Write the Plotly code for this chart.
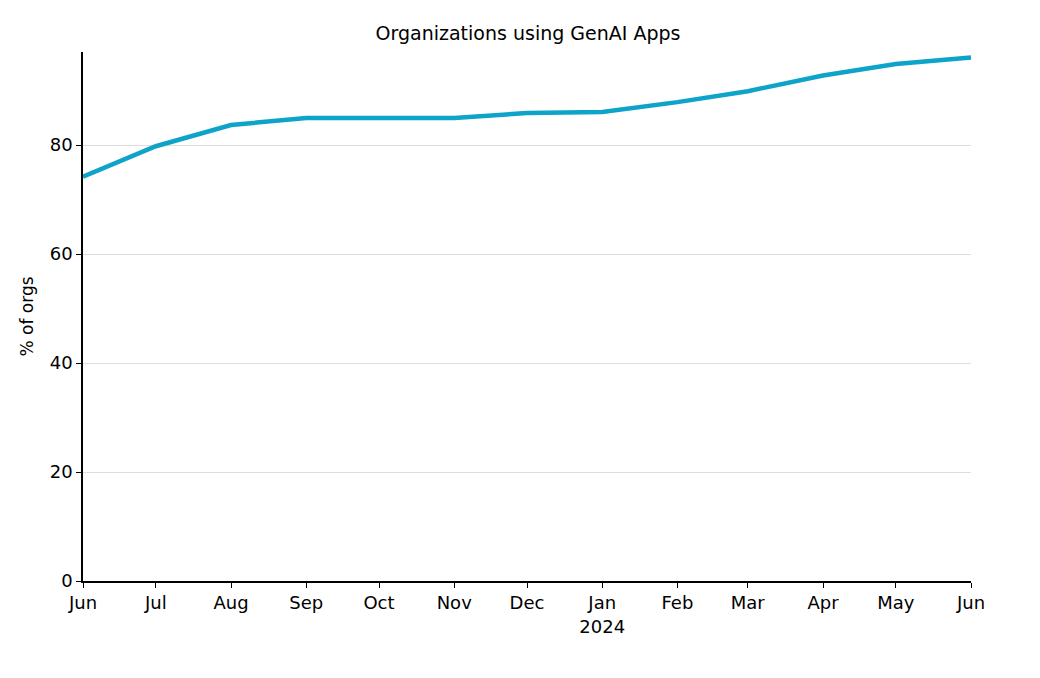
import plotly.graph_objects as go

months = ["2023-06-01", "2023-07-01", "2023-08-01", "2023-09-01", "2023-10-01",
          "2023-11-01", "2023-12-01", "2024-01-01", "2024-02-01", "2024-03-01",
          "2024-04-01", "2024-05-01", "2024-06-01"]
pct_orgs = [74.2, 79.8, 83.7, 85.0, 85.0, 85.0, 85.9, 86.1, 87.9, 89.9, 92.8, 94.9, 96.1]
tick_labels = ["Jun", "Jul", "Aug", "Sep", "Oct", "Nov", "Dec", "Jan<br>2024",
               "Feb", "Mar", "Apr", "May", "Jun"]

fig = go.Figure()
fig.add_trace(go.Scatter(x=months, y=pct_orgs, mode="lines",
                         line=dict(color="#0ea3c8", width=4.5), showlegend=False))

fig.update_layout(
    width=1040, height=678,
    paper_bgcolor="white", plot_bgcolor="white",
    margin=dict(l=75, r=77, t=44, b=105),
    font=dict(family="DejaVu Sans", size=18, color="black"),
    title=dict(text="Organizations using GenAI Apps", x=0.5, xanchor="center",
               y=1 - 25 / 678, yanchor="middle", font=dict(size=19)),
)
fig.update_xaxes(
    type="date", range=[months[0], months[-1]],
    tickvals=months, ticktext=tick_labels, tickangle=0,
    tickfont=dict(size=18),
    showline=True, linecolor="black", linewidth=1.5,
    ticks="outside", ticklen=5, tickcolor="black",
    showgrid=False, zeroline=False,
)
fig.update_yaxes(
    range=[0, 97.1], tickvals=[0, 20, 40, 60, 80],
    tickfont=dict(size=18),
    showline=True, linecolor="black", linewidth=1.5,
    ticks="outside", ticklen=5, tickcolor="black",
    showgrid=True, gridcolor="#dddddd", gridwidth=1, zeroline=False,
    title=dict(text="% of orgs", standoff=12, font=dict(size=17)),
)

fig.write_html("out.html")
